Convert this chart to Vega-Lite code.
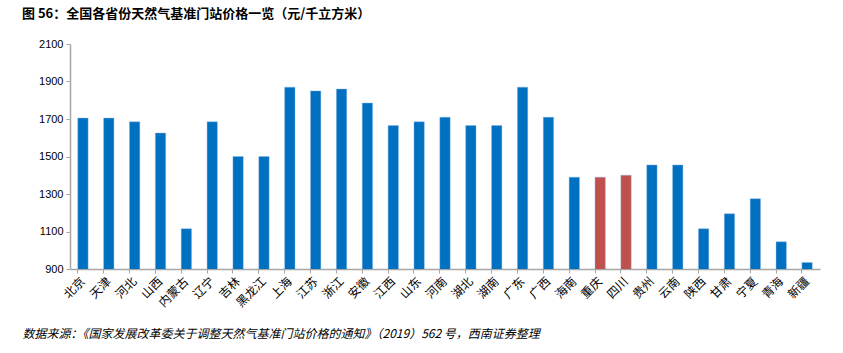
{
  "$schema": "https://vega.github.io/schema/vega-lite/v6.json",
  "width": 750,
  "height": 225,
  "autosize": {"type": "none"},
  "padding": {"left": 70, "top": 44, "right": 23, "bottom": 84},
  "background": "white",
  "title": {
    "text": "图 56：全国各省份天然气基准门站价格一览（元/千立方米）",
    "anchor": "start",
    "frame": "group",
    "dx": -48,
    "offset": 17,
    "font": "Noto Sans CJK SC",
    "fontSize": 13,
    "fontWeight": "bold",
    "color": "#000000"
  },
  "data": {
    "values": [
      {"province": "北京", "price": 1705},
      {"province": "天津", "price": 1705},
      {"province": "河北", "price": 1685},
      {"province": "山西", "price": 1625},
      {"province": "内蒙古", "price": 1115},
      {"province": "辽宁", "price": 1685},
      {"province": "吉林", "price": 1500},
      {"province": "黑龙江", "price": 1500},
      {"province": "上海", "price": 1870},
      {"province": "江苏", "price": 1850},
      {"province": "浙江", "price": 1860},
      {"province": "安徽", "price": 1785},
      {"province": "江西", "price": 1665},
      {"province": "山东", "price": 1685},
      {"province": "河南", "price": 1710},
      {"province": "湖北", "price": 1665},
      {"province": "湖南", "price": 1665},
      {"province": "广东", "price": 1870},
      {"province": "广西", "price": 1710},
      {"province": "海南", "price": 1390},
      {"province": "重庆", "price": 1390},
      {"province": "四川", "price": 1400},
      {"province": "贵州", "price": 1455},
      {"province": "云南", "price": 1455},
      {"province": "陕西", "price": 1115},
      {"province": "甘肃", "price": 1195},
      {"province": "宁夏", "price": 1275},
      {"province": "青海", "price": 1045},
      {"province": "新疆", "price": 935}
    ]
  },
  "mark": {"type": "bar", "clip": true, "stroke": "#8DB4E2", "strokeWidth": 0.6, "strokeOpacity": 0.7},
  "encoding": {
    "x": {
      "field": "province",
      "type": "nominal",
      "sort": null,
      "scale": {"paddingInner": 0.6, "paddingOuter": 0.3},
      "axis": {
        "title": "数据来源：《国家发展改革委关于调整天然气基准门站价格的通知》（2019）562 号，西南证券整理",
        "titleFont": "Noto Sans CJK SC",
        "titleFontSize": 12,
        "titleFontStyle": "italic",
        "titleFontWeight": "normal",
        "titleColor": "#000000",
        "titleAnchor": "start",
        "titleAlign": "left",
        "titleBaseline": "middle",
        "titleX": -48,
        "titleY": 64,
        "labelAngle": -45,
        "labelAlign": "right",
        "labelBaseline": "middle",
        "labelFont": "Noto Sans CJK SC",
        "labelFontSize": 12,
        "labelColor": "#000000",
        "labelPadding": 6,
        "bandPosition": 0,
        "ticks": true,
        "tickSize": 4,
        "tickColor": "#A6A6A6",
        "domainColor": "#A6A6A6",
        "domainWidth": 1.5,
        "grid": false
      }
    },
    "y": {
      "field": "price",
      "type": "quantitative",
      "scale": {"domain": [900, 2100], "nice": false, "zero": false},
      "axis": {
        "title": null,
        "format": "d",
        "values": [900, 1100, 1300, 1500, 1700, 1900, 2100],
        "labelFont": "Liberation Sans",
        "labelFontSize": 11,
        "labelColor": "#000000",
        "labelPadding": 3,
        "tickSize": 4,
        "tickColor": "#A6A6A6",
        "domainColor": "#A6A6A6",
        "domainWidth": 1.5,
        "grid": false
      }
    },
    "color": {
      "condition": {"test": "indexof(['重庆','四川'], datum.province) >= 0", "value": "#C0504D"},
      "value": "#0070C0"
    }
  },
  "config": {"view": {"stroke": null}}
}
